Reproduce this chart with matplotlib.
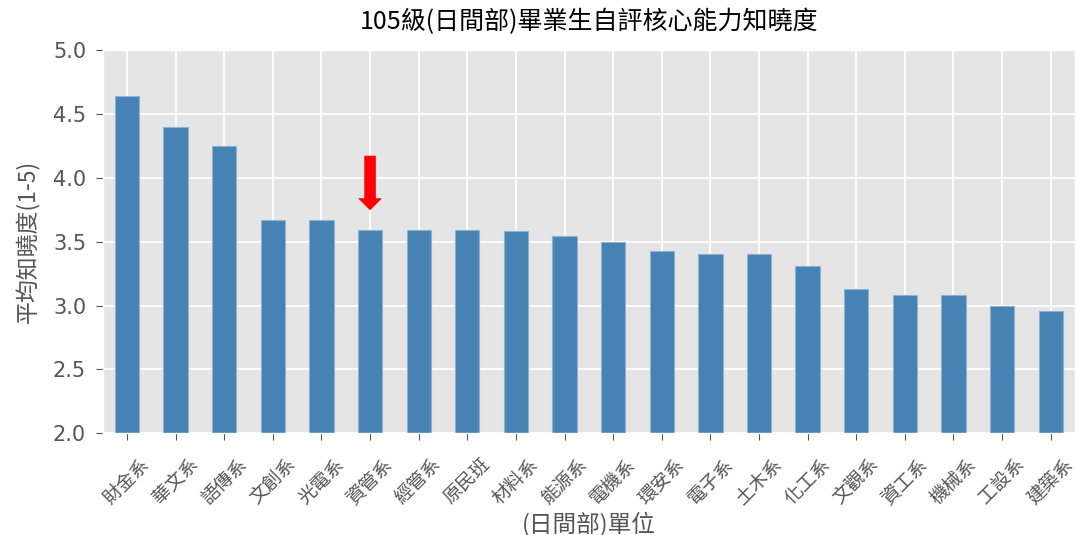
import matplotlib
matplotlib.use("Agg")
import matplotlib.pyplot as plt

plt.style.use("ggplot")
plt.rcParams['font.family'] = ['Noto Sans CJK TC', 'DejaVu Sans']

categories = ["財金系", "華文系", "語傳系", "文創系", "光電系", "資管系", "經管系", "原民班",
              "材料系", "能源系", "電機系", "環安系", "電子系", "土木系", "化工系", "文觀系",
              "資工系", "機械系", "工設系", "建築系"]
values = [4.64, 4.40, 4.245, 3.667, 3.667, 3.588, 3.588, 3.588, 3.581, 3.544,
          3.497, 3.427, 3.401, 3.401, 3.311, 3.127, 3.08, 3.08, 2.994, 2.957]
yticks = [2.0, 2.5, 3.0, 3.5, 4.0, 4.5, 5.0]
highlight_index = 5
arrow_top = 4.17
arrow_tip = 3.75

fig = plt.figure(figsize=(10.76, 5.35), dpi=100)
ax = fig.add_axes([102.7/1076, 1 - 433.3/535, (1075 - 102.7)/1076, (433.3 - 50)/535])

x = list(range(len(categories)))
ax.bar(x, values, width=0.5, color='steelblue', edgecolor='#8fb2d2', linewidth=0.8)
ax.set_xlim(-0.5, len(categories) - 0.5)
ax.set_ylim(2.0, 5.0)
ax.set_yticks(yticks)
ax.set_yticklabels([f"{v:.1f}" for v in yticks], fontsize=15, color='#555555',
                   family=['DejaVu Sans'])
ax.set_xticks(x)
ax.set_xticklabels(categories, rotation=45, fontsize=13.5, color='#555555')
ax.tick_params(axis='y', colors='#555555', length=5, pad=7)
ax.tick_params(axis='x', colors='#555555', length=5, pad=10)
ax.grid(True, color='white', linewidth=1.3)
ax.set_axisbelow(True)

ax.set_title("105級(日間部)畢業生自評核心能力知曉度", fontsize=18, color='black', pad=15)
ax.set_ylabel("平均知曉度(1-5)", fontsize=16.5, color='#555555')
ax.set_xlabel("(日間部)單位", fontsize=17, color='#555555')
ax.xaxis.set_label_coords(0.5, (433.3 - 512) / 383.3)
ax.yaxis.set_label_coords((40 - 102.7) / 972.3, 0.5)

ax.annotate('', xy=(highlight_index, arrow_tip), xytext=(highlight_index, arrow_top),
            arrowprops=dict(color='red', width=7.7, headwidth=16, headlength=8, shrink=0))

fig.savefig("out.png", dpi=100)
